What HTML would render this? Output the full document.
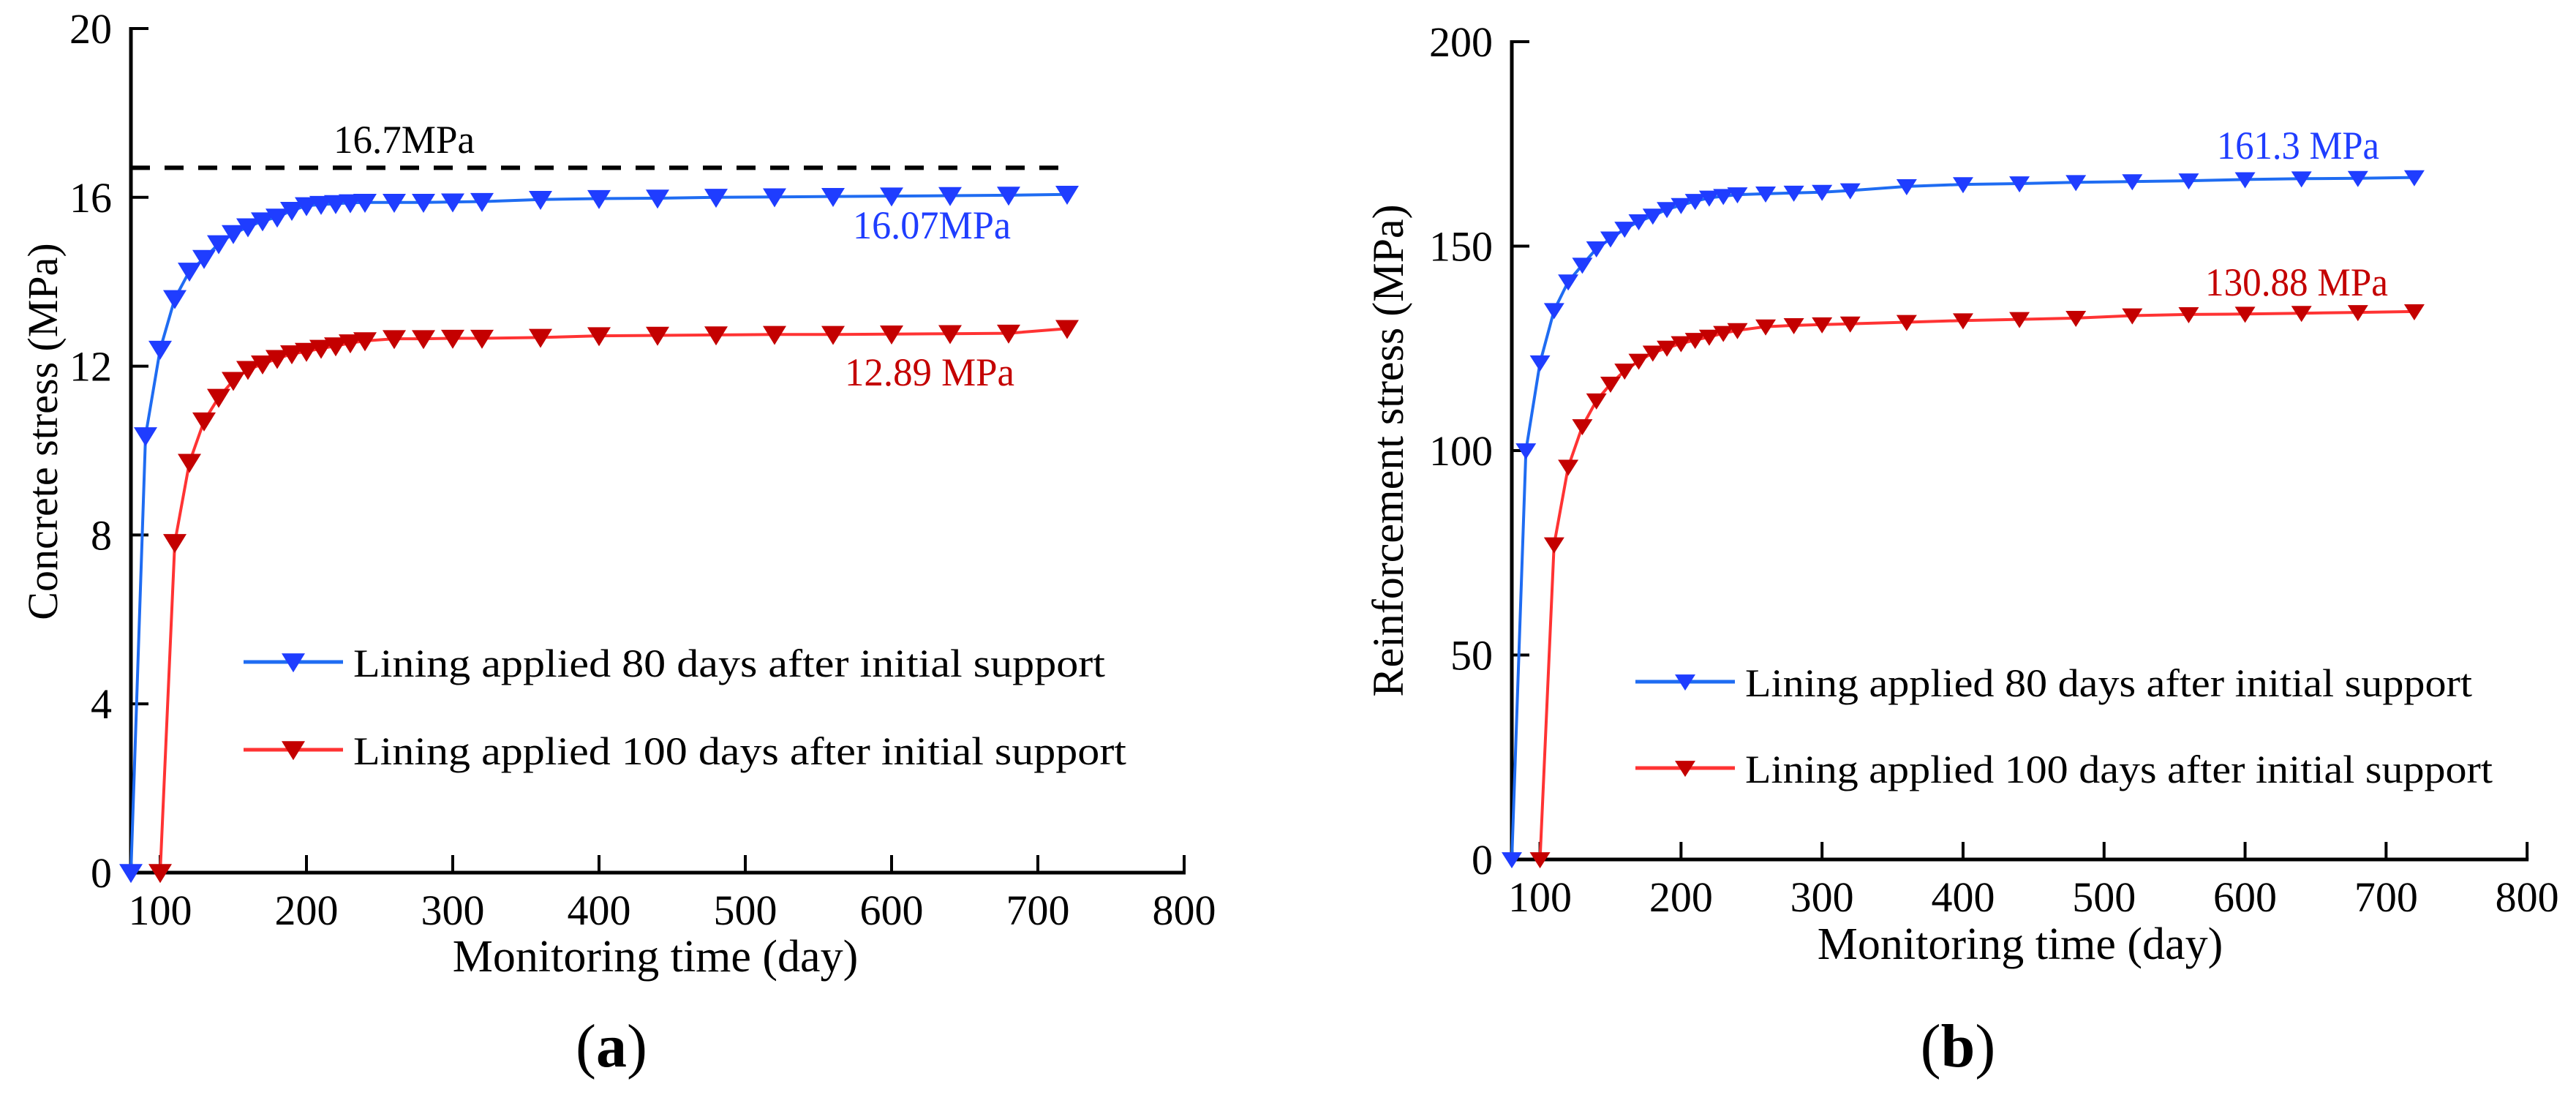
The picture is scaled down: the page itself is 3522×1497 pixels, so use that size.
<!DOCTYPE html>
<html><head><meta charset="utf-8"><style>
html,body{margin:0;padding:0;background:#fff;}
svg{display:block;font-family:"Liberation Serif",serif;}
</style></head><body>
<svg id="fig" width="3522" height="1497" viewBox="0 0 3522 1497" xmlns="http://www.w3.org/2000/svg">
<rect width="3522" height="1497" fill="#fff"/>
</svg>
<script>
const days80 = [80,90,100,110,120,130,140,150,160,170,180,190,200,210,220,230,240,260,280,300,320,360,400,440,480,520,560,600,640,680,720];
const days100 = [100,110,120,130,140,150,160,170,180,190,200,210,220,230,240,260,280,300,320,360,400,440,480,520,560,600,640,680,720];
const concrete80 = [0,10.35,12.4,13.6,14.25,14.55,14.9,15.14,15.3,15.44,15.53,15.69,15.8,15.83,15.85,15.87,15.88,15.88,15.88,15.89,15.9,15.95,15.97,15.98,16.0,16.01,16.02,16.03,16.04,16.05,16.07];
const concrete100 = [0,7.82,9.72,10.7,11.26,11.66,11.92,12.05,12.18,12.29,12.35,12.42,12.48,12.55,12.6,12.65,12.65,12.66,12.66,12.68,12.72,12.73,12.74,12.75,12.75,12.76,12.77,12.78,12.89];
const rebar80 = [0,100,121.5,134.3,141.3,145.4,149.4,151.8,154.2,156,157.4,159,160,161,161.8,162.2,162.6,162.8,163,163.2,163.6,164.6,165.1,165.3,165.6,165.8,166,166.3,166.5,166.6,166.8];
const rebar100 = [0,77,96,105.9,112.2,116.3,119.5,121.9,123.9,125.1,126.2,127,127.8,128.7,129.4,130.3,130.6,130.8,131.0,131.4,131.8,132.1,132.4,133,133.3,133.4,133.6,133.8,134.0];
const xTicks = [100,200,300,400,500,600,700,800];
const yTicksA = [0,4,8,12,16,20];
const yTicksB = [0,50,100,150,200];
const refLineA = [16.7];

const NS="http://www.w3.org/2000/svg";
const svg=document.getElementById('fig');
function mk(tag,attrs,parent){const e=document.createElementNS(NS,tag);for(const k in attrs)e.setAttribute(k,attrs[k]);(parent||svg).appendChild(e);return e;}

function panel(o){
  const g=mk('g',{});
  
  
  const X=v=>o.x0+(v-80)*o.xs;
  const Y=v=>o.y0-v*o.ys;
  // axes
  const ya=mk('line',{x1:o.x0,y1:Y(o.ymax)-2,x2:o.x0,y2:o.y0+2,stroke:'#000','stroke-width':5},g);
  
  
  const xa=mk('line',{x1:o.x0-2,y1:o.y0,x2:X(800)+2,y2:o.y0,stroke:'#000','stroke-width':5},g);
  
  
  xTicks.forEach(t=>{
    const tk=mk('line',{x1:X(t),y1:o.y0,x2:X(t),y2:o.y0-24,stroke:'#000','stroke-width':4},g);
    
    
    const tl=mk('text',{x:X(t),y:o.y0+71,'font-size':58,'text-anchor':'middle',fill:'#000'},g);
    tl.textContent=t;
    
    
  });
  o.yTicks.forEach(t=>{
    const tk=mk('line',{x1:o.x0,y1:Y(t),x2:o.x0+24,y2:Y(t),stroke:'#000','stroke-width':4},g);
    
    
    const tl=mk('text',{x:o.x0-26,y:Y(t)+20,'font-size':58,'text-anchor':'end',fill:'#000'},g);
    tl.textContent=t;
    
    
  });
  const xt=mk('text',{x:o.xTitleX,y:o.xTitleY,'font-size':62,'text-anchor':'middle',fill:'#000'},g);
  xt.textContent='Monitoring time (day)';
  
  
  const yt=mk('text',{x:0,y:0,'font-size':o.yTitleFs,'text-anchor':'middle',fill:'#000',transform:`translate(${o.yTitleX},${o.yTitleY}) rotate(-90)`},g);
  yt.textContent=o.yTitle;
  
  
  const pl=mk('text',{x:o.tagX,y:1458,'font-size':84,'text-anchor':'middle',fill:'#000'},g);
  pl.innerHTML='(<tspan font-weight="bold">'+o.tag+'</tspan>)';
  
  
  // series
  const series=[
    {d:days80,v:o.s80,line:'#1f6cf2',mark:'#1f3dff',name:'series-80-days'},
    {d:days100,v:o.s100,line:'#ff3333',mark:'#c40000',name:'series-100-days'}
  ];
  series.forEach(s=>{
    const sg=mk('g',{},g);
    
    
    const pts=s.d.map((d,i)=>X(d).toFixed(1)+','+Y(s.v[i]).toFixed(1)).join(' ');
    const pl=mk('polyline',{points:pts,fill:'none',stroke:s.line,'stroke-width':4},sg);
    
    
    s.d.forEach((d,i)=>{
      const cx=X(d),cy=Y(s.v[i]),w=o.mw/2,h=o.mh;
      const m=mk('polygon',{points:`${cx-w},${cy-h*0.45} ${cx+w},${cy-h*0.45} ${cx},${cy+h*0.55}`,fill:s.mark},sg);
      
      
    });
  });
  // legend
  const lg=mk('g',{},g);
  
  
  const entries=[
    {y:o.legY[0],line:'#1f6cf2',mark:'#1f3dff',txt:'Lining applied 80 days after initial support',tl:o.legW[0]},
    {y:o.legY[1],line:'#ff3333',mark:'#c40000',txt:'Lining applied 100 days after initial support',tl:o.legW[1]}
  ];
  entries.forEach(e=>{
    const eg=mk('g',{},lg);
    
    
    mk('line',{x1:o.legX,y1:e.y,x2:o.legX+136,y2:e.y,stroke:e.line,'stroke-width':5},eg);
    const cx=o.legX+68,w=o.mw/2,h=o.mh;
    mk('polygon',{points:`${cx-w},${e.y-h*0.45} ${cx+w},${e.y-h*0.45} ${cx},${e.y+h*0.55}`,fill:e.mark},eg);
    const t=mk('text',{x:o.legX+150,y:e.y+20,'font-size':54,fill:'#000',textLength:e.tl,lengthAdjust:'spacingAndGlyphs'},eg);
    t.textContent=e.txt;
  });
  // annotations
  o.notes.forEach(n=>{
    const t=mk('text',{x:n.x,y:n.y,'font-size':54,fill:n.c,textLength:n.w,lengthAdjust:'spacingAndGlyphs'},g);
    t.textContent=n.t;
    
    
  });
  return {X,Y,g};
}

const A=panel({name:'chart-a',x0:179,y0:1193,xs:2,ys:57.7,ymax:20,yTicks:yTicksA,s80:concrete80,s100:concrete100,
  yTitle:'Concrete stress (MPa)',yTitleX:78,yTitleY:590,yTitleFs:58,xTitleX:896,xTitleY:1328,tag:'a',tagX:836,
  mw:32,mh:26,legX:333,legY:[905,1025],legW:[1028,1057],
  notes:[{t:'16.07MPa',x:1166,y:326,w:216,c:'#1f3dff'},{t:'12.89 MPa',x:1155,y:527,w:232,c:'#c40000'},{t:'16.7MPa',x:456,y:209,w:193,c:'#000'}]});
refLineA.forEach(v=>{
  const d=mk('line',{x1:179,y1:A.Y(v),x2:1458,y2:A.Y(v),stroke:'#000','stroke-width':6,'stroke-dasharray':'26 20'},A.g);
  
  
});

panel({name:'chart-b',x0:2067,y0:1175,xs:1.928,ys:5.59,ymax:200,yTicks:yTicksB,s80:rebar80,s100:rebar100,
  yTitle:'Reinforcement stress (MPa)',yTitleX:1918,yTitleY:616,yTitleFs:60,xTitleX:2762,xTitleY:1311,tag:'b',tagX:2677,
  mw:28,mh:22,legX:2236,legY:[932,1050],legW:[994,1022],
  notes:[{t:'161.3 MPa',x:3031,y:217,w:222,c:'#1f3dff'},{t:'130.88 MPa',x:3015,y:404,w:250,c:'#c40000'}]});
</script>
</body></html>
